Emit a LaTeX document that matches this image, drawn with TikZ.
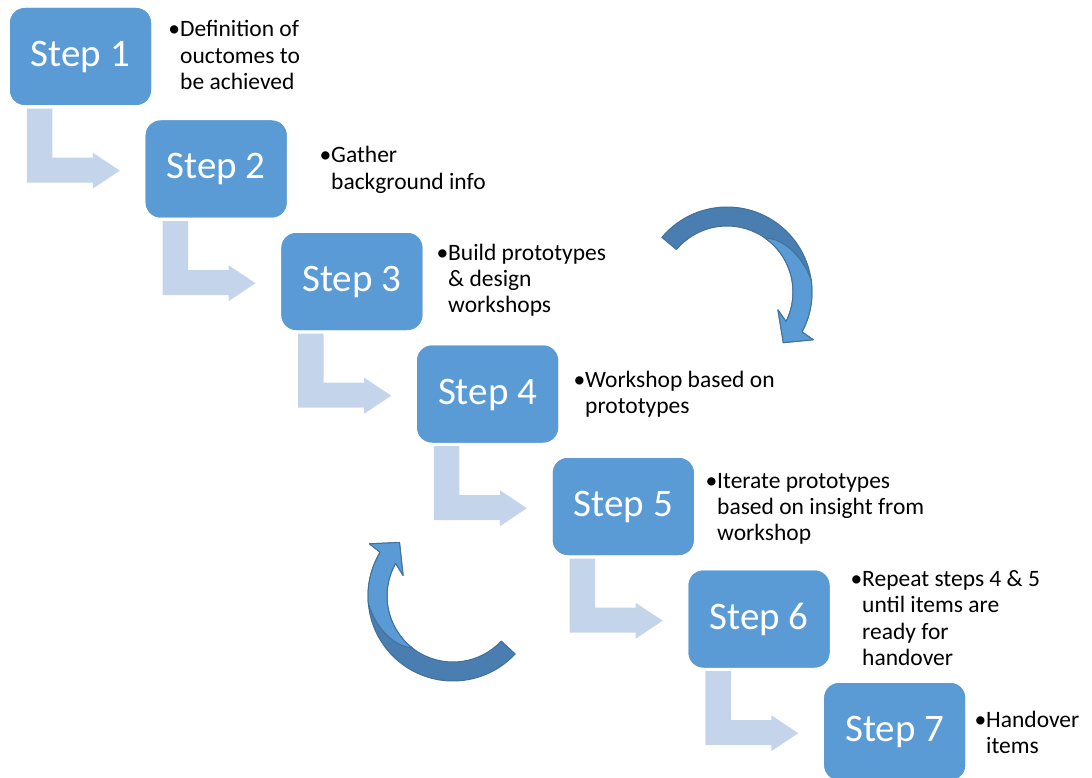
\documentclass[tikz,border=0pt]{standalone}
\usepackage{fontspec}
\setmainfont{Carlito}
\usetikzlibrary{calc}

\definecolor{boxblue}{HTML}{5B9BD5}
\definecolor{paleblue}{HTML}{C4D5EB}
\definecolor{deepblue}{HTML}{4A7DB0}
\definecolor{edgeblue}{HTML}{41719C}

% left-aligned lines, first line carries a hanging bullet; baseline = first line
\newcommand\bulletlines[1]{\vtop{\baselineskip=26.4pt\halign{##\hfil\cr#1\crcr}}}

\tikzset{
  stepbox/.style={fill=boxblue, rounded corners=15pt, minimum width=141pt,
    minimum height=97pt, inner sep=0pt, text=white,
    text height=24pt, text depth=4pt,
    font=\fontsize{39}{41}\selectfont},
  notes/.style={anchor=base west, inner sep=0pt, text=black,
    font=\fontsize{23.5}{26.4}\selectfont},
  bent/.style={fill=paleblue},
  ringback/.style={fill=deepblue, draw=edgeblue, line width=1pt, line join=round},
  ringfront/.style={fill=boxblue, draw=edgeblue, line width=1pt, line join=round},
}

\begin{document}
\begin{tikzpicture}[x=1pt,y=1pt]
\useasboundingbox (0,0) rectangle (1092,-778);

% step boxes
\foreach \k in {1,...,7}{
  \node[stepbox] (s\k) at ({80.5+135.7*(\k-1)}, {-56.5-112.5*(\k-1)}) {Step \k};
}

% bent arrows from each box to the next
\foreach \k in {1,...,6}{
  \begin{scope}[shift={(s\k.south west)}]
    \fill[bent] (17,-3.5) -- (42.5,-3.5) -- (42.5,-52.5) -- (83,-52.5) -- (83,-47.5)
      -- (110,-65.5) -- (83,-83.5) -- (83,-77.5) -- (17,-77.5) -- cycle;
  \end{scope}
}
% redraw boxes above the arrows
\foreach \k in {1,...,7}{
  \node[stepbox] at (s\k) {Step \k};
}

% notes beside each step
\node[notes] (n1) at (180,-37) {\bulletlines{\llap{•}Definition of\cr ouctomes to\cr be achieved}};
\node[notes] (n2) at (331,-163) {\bulletlines{\llap{•}Gather\cr background info}};
\node[notes] (n3) at (448,-260) {\bulletlines{\llap{•}Build prototypes\cr \& design\cr workshops}};
\node[notes] (n4) at (585,-387) {\bulletlines{\llap{•}Workshop based on\cr prototypes}};
\node[notes] (n5) at (717,-488) {\bulletlines{\llap{•}Iterate prototypes\cr based on insight from\cr workshop}};
\node[notes] (n6) at (862,-586.5) {\bulletlines{\llap{•}Repeat steps 4 \& 5\cr until items are\cr ready for\cr handover}};
\node[notes] (n7) at (986,-727) {\bulletlines{\llap{•}Handover\cr items}};

% circular "iterate" arrows
\foreach \cx/\cy/\rot [count=\i] in {727/-292/0, 453/-596/177}{
  \begin{scope}[shift={(\cx,\cy)}, rotate=\rot]
    \coordinate (loop\i) at (0,0);
    \filldraw[ringback] (140:85) arc[start angle=140, end angle=-28, radius=85]
      -- (-29:98.5) -- (-42:75.7) -- (-19.4:54) -- (-26.6:66)
      arc[start angle=-26.6, end angle=140, radius=66] -- cycle;
    \filldraw[ringfront] (55:66) .. controls (45:76) and (28:84) .. (8:85)
      arc[start angle=8, end angle=-28, radius=85]
      -- (-29:98.5) -- (-42:75.7) -- (-19.4:54) -- (-26.6:66)
      arc[start angle=-26.6, end angle=55, radius=66] -- cycle;
  \end{scope}
}
\end{tikzpicture}
\end{document}
